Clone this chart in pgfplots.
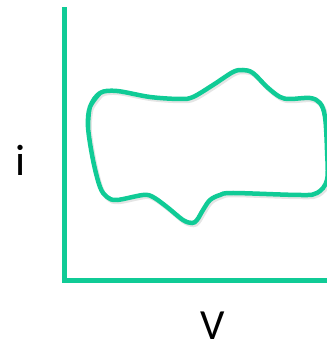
\documentclass[border=0pt]{standalone}
\usepackage{pgfplots}
\pgfplotsset{compat=1.18}
\usepackage{fontspec}
\setmainfont{Carlito}
\definecolor{cvgreen}{RGB}{16,203,150}
\begin{document}
\begin{tikzpicture}
\useasboundingbox (-65pt,-66pt) rectangle (261pt,281pt);
\begin{axis}[
  scale only axis, width=261pt, height=271pt,
  xmin=0, xmax=261, ymin=0, ymax=271,
  axis lines=left,
  axis line style={-, line width=5pt, draw=cvgreen, line cap=rect},
  xtick=\empty, ytick=\empty,
  clip=false,
  xlabel={V}, ylabel={i},
  every axis x label/.style={at={(axis cs:148,-45)}, anchor=center, font=\fontsize{43}{48}\selectfont},
  every axis y label/.style={at={(axis cs:-44,121)}, anchor=center, font=\fontsize{44}{48}\selectfont},
]
\addplot[smooth, tension=0.55, line width=4.5pt, draw=black, opacity=0.10, xshift=1.5pt, yshift=-2pt] coordinates {
(23,154) (25,174) (35,188) (52,190) (85,184) (115,182) (128,184) (148,196) (168,209) (178,211) (188,208) (202,194) (215,184) (225,182) (245,183) (255,178) (260,164) (262,131) (262,101) (252,88) (235,86) (168,88) (155,86) (145,81) (138,71) (132,61) (127,58) (118,61) (102,74) (88,84) (78,86) (52,81) (42,84) (35,94) (28,121) (23,154) (25,174) (35,188)
};
\addplot[smooth, tension=0.55, line width=4.5pt, draw=cvgreen] coordinates {
(23,154) (25,174) (35,188) (52,190) (85,184) (115,182) (128,184) (148,196) (168,209) (178,211) (188,208) (202,194) (215,184) (225,182) (245,183) (255,178) (260,164) (262,131) (262,101) (252,88) (235,86) (168,88) (155,86) (145,81) (138,71) (132,61) (127,58) (118,61) (102,74) (88,84) (78,86) (52,81) (42,84) (35,94) (28,121) (23,154) (25,174) (35,188)
};
\end{axis}
\end{tikzpicture}
\end{document}
